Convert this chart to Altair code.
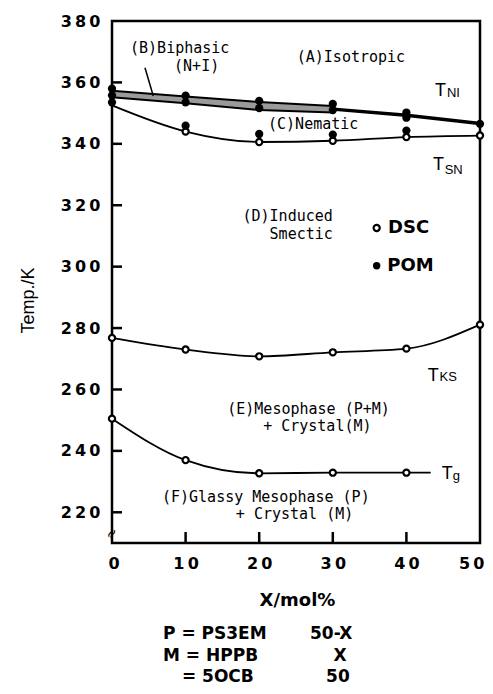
import altair as alt
import pandas as pd

# ---------------- data ----------------
# DSC (open circles)
tsn_x = [10, 20, 30, 40, 50]
tsn_dsc = [344.0, 340.6, 341.0, 342.2, 342.7]
tks_x = [0, 10, 20, 30, 40, 50]
tks_dsc = [276.8, 273.0, 270.8, 272.1, 273.3, 281.1]
tg_x = [0, 10, 20, 30, 40]
tg_dsc = [250.5, 237.0, 232.7, 232.9, 232.9]

# POM (filled circles)
pom_x = [0, 0, 0, 10, 10, 10, 20, 20, 20, 30, 30, 30, 40, 40, 40, 50]
pom_y = [358.0, 355.8, 353.5, 355.7, 353.5, 345.9, 354.0, 351.6, 343.2,
         353.0, 351.0, 343.0, 350.2, 348.5, 344.3, 346.5]

# curves
tsn_line_x = [0, 10, 20, 30, 40, 50]
tsn_line_y = [352.5, 344.0, 340.6, 341.0, 342.2, 342.7]
tg_line_x = [0, 10, 20, 30, 40, 43.3]
tg_line_y = [250.5, 237.0, 232.7, 232.9, 232.9, 232.9]

# biphasic band (N+I) and T_NI line
band_x = [0, 10, 20, 30]
band_upper = [357.3, 355.4, 353.6, 352.3]
band_lower = [355.2, 353.2, 351.0, 350.2]
tni_x = [30, 40, 50]
tni_y = [351.3, 349.3, 346.6]

y_ticks = [220, 240, 260, 280, 300, 320, 340, 360]
x_ticks = [10, 20, 30, 40]

region_labels = ["(B)Biphasic", "(N+I)", "(A)Isotropic", "(C)Nematic", "(D)Induced", "Smectic",
                 "(E)Mesophase (P+M)", "+ Crystal(M)", "(F)Glassy Mesophase (P)", "+ Crystal (M)"]
region_x = [2.45, 11.5, 25.1, 21.2, 30.0, 30.0, 26.7, 27.9, 20.9, 24.8]
region_y = [371.1, 365.4, 368.3, 346.4, 316.4, 310.5, 253.5, 248.1, 224.9, 219.3]
region_align = ["left", "center", "left", "left", "right", "right", "center", "center", "center", "center"]

sym_main = ["T", "T", "T", "T"]
sym_main_x = [43.9, 43.6, 42.9, 44.8]
sym_main_y = [357.3, 333.1, 264.3, 232.6]
sym_sub = ["NI", "SN", "KS", "g"]
sym_sub_x = [45.5, 45.2, 44.5, 46.3]
sym_sub_y = [356.6, 331.6, 263.9, 231.8]

legend_names = ["DSC", "POM"]
legend_x = [35.96, 35.96]
legend_y = [312.6, 300.3]
legend_text_x = [37.5, 37.4]

pointer_x = [4.48, 5.61]
pointer_y = [364.8, 355.6]

foot_text = ["P = PS3EM", "50-X", "M = HPPB", "X", "= 5OCB", "50"]
foot_x = [6.93, 26.9, 6.93, 31.0, 9.5, 30.7]
foot_y = [180.4, 180.4, 173.3, 173.3, 166.5, 166.5]
foot_align = ["left", "left", "left", "center", "left", "center"]

# ---------------- scales / axes ----------------
xs = alt.Scale(domain=[0, 50], nice=False, zero=False)
ys = alt.Scale(domain=[210, 380], nice=False, zero=False)

x_axis = alt.Axis(values=[0, 10, 20, 30, 40, 50], ticks=False, domain=False, grid=False,
                  labelFont="DejaVu Sans", labelFontWeight="bold", labelFontSize=16,
                  labelColor="black", labelPadding=12, labelFlush=True, labelFlushOffset=4,
                  labelExpr="join(split(datum.label, ''), '\u2009')",
                  title="X/mol%", titleFont="DejaVu Sans", titleFontWeight="bold",
                  titleFontSize=18, titleColor="black", titleX=185, titleY=57,
                  titleAlign="center", titleBaseline="middle")
y_axis = alt.Axis(values=[220, 240, 260, 280, 300, 320, 340, 360, 380], ticks=False,
                  domain=False, grid=False,
                  labelFont="DejaVu Sans", labelFontWeight="bold", labelFontSize=16,
                  labelColor="black", labelPadding=12, labelFlush=False,
                  labelExpr="join(split(datum.label, ''), '\u2009')",
                  title="Temp./K", titleFont="Liberation Sans", titleFontWeight="normal",
                  titleFontSize=18, titleColor="black", titleX=-84, titleY=279,
                  titleAngle=270, titleAlign="center", titleBaseline="middle")


def X(f="x"):
    return alt.X(f"{f}:Q", scale=xs, axis=x_axis)


def Y(f="y"):
    return alt.Y(f"{f}:Q", scale=ys, axis=y_axis)


def df(**kw):
    return pd.DataFrame(kw)


def text_layers(xv, yv, tv, av, **mark_kw):
    d = df(x=xv, y=yv, t=tv, a=av)
    out = []
    for a in ["left", "center", "right"]:
        sub = d[d["a"] == a]
        if len(sub):
            out.append(alt.Chart(sub).mark_text(align=a, baseline="middle", color="black", **mark_kw)
                       .encode(x=X(), y=Y(), text="t:N"))
    return out


base_line = dict(color="black", strokeWidth=1.8)

tsn_curve = alt.Chart(df(x=tsn_line_x, y=tsn_line_y)).mark_line(interpolate="monotone", **base_line).encode(x=X(), y=Y())
tks_curve = alt.Chart(df(x=tks_x, y=tks_dsc)).mark_line(interpolate="monotone", **base_line).encode(x=X(), y=Y())
tg_curve = alt.Chart(df(x=tg_line_x, y=tg_line_y)).mark_line(interpolate="monotone", **base_line).encode(x=X(), y=Y())

band = alt.Chart(df(x=band_x, y=band_upper, y2=band_lower)).mark_area(color="#9a9a9a", opacity=1).encode(
    x=X(), y=Y(), y2="y2:Q")
band_up = alt.Chart(df(x=band_x, y=band_upper)).mark_line(color="black", strokeWidth=2).encode(x=X(), y=Y())
band_lo = alt.Chart(df(x=band_x, y=band_lower)).mark_line(color="black", strokeWidth=2).encode(x=X(), y=Y())
tni_line = alt.Chart(df(x=tni_x, y=tni_y)).mark_line(color="black", strokeWidth=3.5).encode(x=X(), y=Y())

pointer = alt.Chart(df(x=pointer_x, y=pointer_y)).mark_line(color="black", strokeWidth=1.5).encode(x=X(), y=Y())

open_df = pd.concat([df(x=tsn_x, y=tsn_dsc), df(x=tks_x, y=tks_dsc), df(x=tg_x, y=tg_dsc)])
open_pts = alt.Chart(open_df).mark_point(shape="circle", size=38, filled=False, fill="white",
                                         fillOpacity=1, stroke="black", strokeWidth=2.2, opacity=1).encode(x=X(), y=Y())
pom_pts = alt.Chart(df(x=pom_x, y=pom_y)).mark_point(shape="circle", size=68, filled=True,
                                                     color="black", opacity=1).encode(x=X(), y=Y())

y_tick_rules = alt.Chart(df(v=y_ticks)).mark_rule(color="black", strokeWidth=2.5).encode(
    y=alt.Y("v:Q", scale=ys, axis=y_axis), x=alt.value(0), x2=alt.value(10))
x_tick_rules = alt.Chart(df(v=x_ticks)).mark_rule(color="black", strokeWidth=2.5).encode(
    x=alt.X("v:Q", scale=xs, axis=x_axis), y=alt.value(522), y2=alt.value(511))

regions = text_layers(region_x, region_y, region_labels, region_align,
                      font="DejaVu Sans Mono", fontSize=15)

sym_t = alt.Chart(df(x=sym_main_x, y=sym_main_y, t=sym_main)).mark_text(
    font="Liberation Sans", fontSize=18, color="black", align="left", baseline="middle").encode(
    x=X(), y=Y(), text="t:N")
sym_s = alt.Chart(df(x=sym_sub_x, y=sym_sub_y, t=sym_sub)).mark_text(
    font="Liberation Sans", fontSize=13, color="black", align="left", baseline="middle").encode(
    x=X(), y=Y(), text="t:N")

leg_open = alt.Chart(df(x=legend_x[:1], y=legend_y[:1])).mark_point(
    shape="circle", size=38, filled=False, fill="white", fillOpacity=1, stroke="black",
    strokeWidth=2.2, opacity=1).encode(x=X(), y=Y())
leg_fill = alt.Chart(df(x=legend_x[1:], y=legend_y[1:])).mark_point(
    shape="circle", size=55, filled=True, color="black", opacity=1).encode(x=X(), y=Y())
leg_text = alt.Chart(df(x=legend_text_x, y=legend_y, t=legend_names)).mark_text(
    font="DejaVu Sans", fontWeight="bold", fontSize=18, color="black", align="left",
    baseline="middle").encode(x=X(), y=Y(), text="t:N")

axis_break = alt.Chart(df(x=[0], y=[213.0], t=["\u2248"])).mark_text(
    font="DejaVu Sans", fontSize=14, color="black", angle=300, baseline="middle").encode(
    x=X(), y=Y(), text="t:N")

foot = text_layers(foot_x, foot_y, foot_text, foot_align,
                   font="DejaVu Sans", fontWeight="bold", fontSize=17)

chart = alt.layer(
    band, band_up, band_lo, tni_line, tsn_curve, tks_curve, tg_curve, pointer,
    open_pts, pom_pts, y_tick_rules, x_tick_rules, *regions, sym_t, sym_s,
    leg_open, leg_fill, leg_text, axis_break, *foot
).properties(
    width=368, height=522,
    autosize=alt.AutoSizeParams(type="none"),
    padding={"left": 104, "top": 13, "right": 5, "bottom": 143},
    background="white",
).configure_view(stroke="black", strokeWidth=2.5)

chart.save("out.html", embed_options={"renderer": "svg", "actions": False})
